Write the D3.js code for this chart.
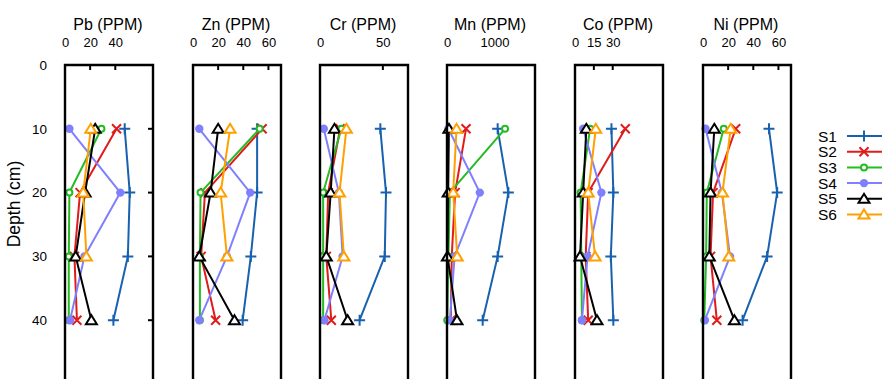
<!DOCTYPE html>
<html>
<head>
<meta charset="utf-8">
<script src="https://cdn.jsdelivr.net/npm/d3@7"></script>
<style>
  html, body { margin: 0; padding: 0; background: #fff; }
  svg { display: block; font-family: "Liberation Sans", Arial, sans-serif; }
</style>
</head>
<body>
<svg id="chart" width="882" height="379"></svg>
<script>
// ---------- data ----------
const depths = [10, 20, 30, 40];
const seriesNames = ["S1", "S2", "S3", "S4", "S5", "S6"];
const elementNames = ["Pb", "Zn", "Cr", "Mn", "Co", "Ni"];
const depthTicks = [0, 10, 20, 30, 40];

// values per series (S1..S6), at depths 10,20,30,40 ; null = no sample
const pbValues = [
  [47.5, 51.5, 50, 38.5],
  [41, 12, 7.5, 9.5],
  [29, 3.5, 3, 3],
  [3.5, 44, 15.5, 4],
  [24, 16, 8.5, 21],
  [20.5, 14.5, 17, null]
];
const znValues = [
  [51, 51, 46, 39.5],
  [55, 9.5, 6.5, 18],
  [53, 6, 5.5, 5.5],
  [5, 45.5, 27, 5],
  [20, 14, 5, 33],
  [29.5, 22, 27, null]
];
const crValues = [
  [48, 52.5, 51.5, 31.5],
  [16, 6.5, 5, 9],
  [17, 2.5, 2.5, 2.5],
  [3, 15, 18, 3.5],
  [11.5, 8.5, 5, 22],
  [21, 15.5, 19, null]
];
const mnValues = [
  [1065, 1290, 1065, 750],
  [400, 170, 100, 80],
  [1220, 60, 30, 5],
  [30, 690, 160, 60],
  [40, 25, 10, 210],
  [200, 130, 215, null]
];
const coValues = [
  [29, 30.5, 28.5, 30.5],
  [40, 10.5, 8.5, 10.5],
  [12, 4.5, 5, 5.5],
  [6.5, 21, 10, 5.5],
  [9, 6.5, 4, 17.5],
  [16.5, 10.5, 16, null]
];
const niValues = [
  [52.5, 59, 51, 31.5],
  [26, 8, 6, 11],
  [16.5, 3, 2.5, 1],
  [2, 15, 21.5, 1.5],
  [9, 6, 5, 25],
  [22, 15.5, 20.5, null]
];
const pbTicks = [0, 20, 40];
const znTicks = [0, 20, 40, 60];
const crTicks = [0, 50];
const mnTicks = [0, 1000];
const coTicks = [0, 15, 30];
const niTicks = [0, 20, 40, 60];
const pbMax = 70, znMax = 70, crMax = 70, mnMax = 1850, coMax = 70, niMax = 70;

// ---------- layout / style ----------
const panels = [
  { name: "Pb", values: pbValues, ticks: pbTicks, max: pbMax, showTicks: true },
  { name: "Zn", values: znValues, ticks: znTicks, max: znMax, showTicks: true },
  { name: "Cr", values: crValues, ticks: crTicks, max: crMax, showTicks: true },
  { name: "Mn", values: mnValues, ticks: mnTicks, max: mnMax, showTicks: false },
  { name: "Co", values: coValues, ticks: coTicks, max: coMax, showTicks: true },
  { name: "Ni", values: niValues, ticks: niTicks, max: niMax, showTicks: true }
];
const panelLefts = [65, 193, 320, 447, 575, 703];
const panelWidth = 88;
const plotTop = 65;
const colors = ["#1861b0", "#e01b1b", "#24bb24", "#8080ff", "#000000", "#ffa000"];
const markerTypes = ["plus", "cross", "ocircle", "fcircle", "triangle", "triangle"];

const svg = d3.select("#chart");
const y = d3.scaleLinear().domain([0, 50]).range([plotTop, plotTop + 319]);

function drawMarker(g, type, cx, cy, color) {
  if (type === "plus") {
    g.append("path").attr("d", `M${cx-5.5},${cy}H${cx+5.5}M${cx},${cy-5.5}V${cy+5.5}`)
      .attr("stroke", color).attr("stroke-width", 2).attr("fill", "none");
  } else if (type === "cross") {
    g.append("path").attr("d", `M${cx-4.5},${cy-4.5}L${cx+4.5},${cy+4.5}M${cx-4.5},${cy+4.5}L${cx+4.5},${cy-4.5}`)
      .attr("stroke", color).attr("stroke-width", 2).attr("fill", "none");
  } else if (type === "ocircle") {
    g.append("circle").attr("cx", cx).attr("cy", cy).attr("r", 3)
      .attr("stroke", color).attr("stroke-width", 2).attr("fill", "#fff");
  } else if (type === "fcircle") {
    g.append("circle").attr("cx", cx).attr("cy", cy).attr("r", 4.2)
      .attr("fill", color);
  } else if (type === "triangle") {
    g.append("path").attr("d", `M${cx},${cy-5}L${cx+5.5},${cy+4}L${cx-5.5},${cy+4}Z`)
      .attr("stroke", color).attr("stroke-width", 2).attr("fill", "#fff");
  }
}

panels.forEach((p, i) => {
  const left = panelLefts[i];
  const x = d3.scaleLinear().domain([0, p.max]).range([left, left + panelWidth]);
  const g = svg.append("g");

  // title
  g.append("text").attr("x", left + panelWidth / 2 - 1).attr("y", 30)
    .attr("text-anchor", "middle").attr("font-size", 16).attr("fill", "#000")
    .text(p.name + " (PPM)");

  // top axis labels
  const axis = d3.axisTop(x).tickValues(p.ticks).tickSize(0).tickPadding(0)
    .tickFormat(d3.format("d"));
  const ag = g.append("g").attr("transform", `translate(0,47)`).call(axis);
  ag.select(".domain").remove();
  ag.selectAll("text").attr("font-size", 13).attr("fill", "#000")
    .attr("font-family", '"Liberation Sans", Arial, sans-serif').attr("dy", 0);

  // inward tick marks at top
  if (p.showTicks) {
    p.ticks.filter(t => t > 0).forEach(t => {
      g.append("line").attr("x1", x(t)).attr("x2", x(t)).attr("y1", plotTop).attr("y2", plotTop + 5)
        .attr("stroke", "#000").attr("stroke-width", 2);
    });
  }

  // series lines and markers
  p.values.forEach((vals, si) => {
    const pts = depths.map((d, k) => ({ d, v: vals[k] })).filter(o => o.v !== null);
    const line = d3.line().x(o => x(o.v)).y(o => y(o.d));
    g.append("path").datum(pts).attr("d", line).attr("fill", "none")
      .attr("stroke", colors[si]).attr("stroke-width", 2);
    pts.forEach(o => drawMarker(g, markerTypes[si], x(o.v), y(o.d), colors[si]));
  });

  // frame
  g.append("path")
    .attr("d", `M${left},${y(50)}V${plotTop}H${left + panelWidth}V${y(50)}`)
    .attr("fill", "none").attr("stroke", "#000").attr("stroke-width", 2.4);

  // y ticks inside first panel (right side)
  if (i === 0) {
    depthTicks.filter(t => t > 0).forEach(t => {
      g.append("line").attr("x1", left + panelWidth - 5).attr("x2", left + panelWidth)
        .attr("y1", y(t)).attr("y2", y(t)).attr("stroke", "#000").attr("stroke-width", 2);
    });
  }
});

// y axis labels
const yAxis = d3.axisLeft(y).tickValues(depthTicks).tickSize(0).tickPadding(0);
const yg = svg.append("g").attr("transform", "translate(47,0)").call(yAxis);
yg.select(".domain").remove();
yg.selectAll("text").attr("font-size", 13.5).attr("fill", "#000")
  .attr("font-family", '"Liberation Sans", Arial, sans-serif');

svg.append("text").attr("transform", "translate(20,204) rotate(-90)")
  .attr("text-anchor", "middle").attr("font-size", 17.5).attr("fill", "#000")
  .text("Depth (cm)");

// legend
const legend = svg.append("g");
seriesNames.forEach((s, si) => {
  const ly = 136 + si * 15.7;
  legend.append("text").attr("x", 837).attr("y", ly + 5.5).attr("text-anchor", "end")
    .attr("font-size", 15.5).attr("fill", "#000").text(s);
  legend.append("line").attr("x1", 847).attr("x2", 892).attr("y1", ly).attr("y2", ly)
    .attr("stroke", colors[si]).attr("stroke-width", 2);
  drawMarker(legend, markerTypes[si], 864, ly, colors[si]);
});
</script>
</body>
</html>
